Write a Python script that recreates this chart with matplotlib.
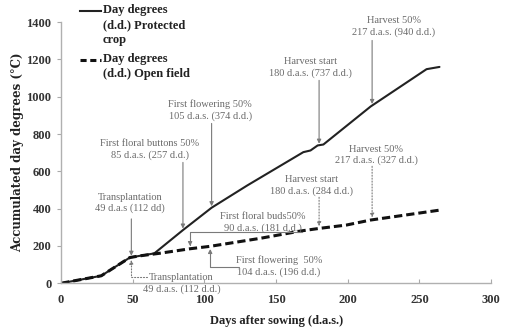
import matplotlib
matplotlib.use("Agg")
import matplotlib.pyplot as plt
from matplotlib.lines import Line2D
import numpy as np

# accumulated day degrees
days_protected = [0, 14, 28, 48, 65, 85, 105, 130, 169, 174, 179, 183, 216, 255, 264]
dd_protected = [0, 20, 40, 138, 160, 285, 405, 525, 703, 712, 739, 744, 948, 1148, 1160]

days_open = [0, 14, 28, 48, 55, 69, 90, 104, 139, 167, 180, 199, 216, 264]
dd_open = [0, 20, 40, 138, 147, 161, 185, 198, 241, 280, 294, 312, 339, 392]

x_ticks = [0, 50, 100, 150, 200, 250, 300]
y_ticks = [0, 200, 400, 600, 800, 1000, 1200, 1400]

# (text, event day, text x, text y, arrow start y)
protected_events = [
    ("Transplantation\n49 d.a.s (112 dd)", 49, 48, 430, 345),
    ("First floral buttons 50%\n85 d.a.s. (257 d.d.)", 85, 62, 718, 648),
    ("First flowering 50%\n105 d.a.s. (374 d.d.)", 105, 104, 927, 857),
    ("Harvest start\n180 d.a.s. (737 d.d.)", 180, 174, 1155, 1088),
    ("Harvest 50%\n217 d.a.s. (940 d.d.)", 217, 232, 1375, 1302),
]
open_events = [
    ("Harvest start\n180 d.a.s. (284 d.d.)", 180, 175, 522, 461),
    ("Harvest 50%\n217 d.a.s. (327 d.d.)", 217, 220, 688, 627),
]

serif = "DejaVu Serif"
times = "Liberation Serif"
note_font = dict(family=times, size=7.5, color="#6a6a6a",
                 ha="center", va="center", linespacing=1.3)
leader = "#7a7a7a"

fig = plt.figure(figsize=(5.18, 3.36), dpi=100)
ax = fig.add_axes([0.118, 0.157, 0.83, 0.777])

ax.plot(days_protected, dd_protected, color="#222222", lw=1.5, solid_capstyle="round")
ax.plot(days_open, dd_open, color="#111111", lw=2.2, dashes=(2.7, 1.3))

for text, day, tx, ty, y0 in protected_events:
    y1 = np.interp(day, days_protected, dd_protected)
    ax.text(tx, ty, text, **note_font)
    ax.annotate("", xy=(day, y1 + 8), xytext=(day, y0),
                arrowprops=dict(arrowstyle="-|>", color=leader, lw=0.8,
                                mutation_scale=6, shrinkA=0, shrinkB=0))

for text, day, tx, ty, y0 in open_events:
    y1 = np.interp(day, days_open, dd_open)
    ax.text(tx, ty, text, **note_font)
    ax.annotate("", xy=(day, y1 + 12), xytext=(day, y0),
                arrowprops=dict(arrowstyle="-|>", color=leader, lw=0.8, ls=":",
                                mutation_scale=6, shrinkA=0, shrinkB=0))

# open field notes with elbow leaders
y90 = np.interp(90, days_open, dd_open)
ax.text(141, 327, "First floral buds50%\n90 d.a.s. (181 d.d.)", **note_font)
ax.annotate("", xy=(90, y90 + 14), xytext=(168, 275),
            arrowprops=dict(arrowstyle="-|>", color=leader, lw=0.8, mutation_scale=6,
                            shrinkA=0, shrinkB=0,
                            connectionstyle="angle,angleA=0,angleB=90,rad=0"))

y104 = np.interp(104, days_open, dd_open)
ax.text(152, 91, "First flowering  50%\n104 d.a.s. (196 d.d.)", **note_font)
ax.annotate("", xy=(104, y104 - 14), xytext=(124, 86),
            arrowprops=dict(arrowstyle="-|>", color=leader, lw=0.8, mutation_scale=6,
                            shrinkA=0, shrinkB=0,
                            connectionstyle="angle,angleA=0,angleB=90,rad=0"))

y49 = np.interp(49, days_open, dd_open)
ax.text(84, -3, "Transplantation\n49 d.a.s. (112 d.d.)", **note_font)
ax.annotate("", xy=(49, y49 - 14), xytext=(60, 32), annotation_clip=False,
            arrowprops=dict(arrowstyle="-|>", color=leader, lw=0.8, ls=":",
                            mutation_scale=6, shrinkA=0, shrinkB=0,
                            connectionstyle="angle,angleA=0,angleB=90,rad=0"))

ax.set_xlim(0, 300)
ax.set_ylim(0, 1400)
ax.set_xticks(x_ticks)
ax.set_yticks(y_ticks)
for lbl in ax.get_xticklabels() + ax.get_yticklabels():
    lbl.set_fontfamily(times)
    lbl.set_fontweight("bold")
    lbl.set_fontsize(9)
    lbl.set_color("#333333")
ax.tick_params(axis="x", direction="in", length=3, color="#aaaaaa", pad=8)
ax.tick_params(axis="y", direction="out", length=3, color="#aaaaaa", pad=4)

ax.set_xlabel("Days after sowing (d.a.s.)", family=times, weight="bold",
              fontsize=9, color="#222222", labelpad=6)
ax.set_ylabel("Accumulated day degrees (°C)", family=serif, weight="bold",
              fontsize=8.5, color="#222222", labelpad=2)

ax.spines[["top", "right"]].set_visible(False)
ax.spines[["left", "bottom"]].set_color("#b0b0b0")
ax.spines[["left", "bottom"]].set_linewidth(1.0)

# hand-drawn legend, handle aligned with the first text line
legend_font = dict(family=times, weight="bold", fontsize=9, color="#222222",
                   va="top", ha="left", linespacing=1.35)
fig.add_artist(Line2D([80 / 518, 101 / 518], [1 - 11 / 336] * 2,
                      color="#222222", lw=1.5))
fig.text(103 / 518, 1 - 4 / 336, "Day degrees\n(d.d.) Protected\ncrop", **legend_font)
fig.add_artist(Line2D([80 / 518, 101 / 518], [1 - 60 / 336] * 2,
                      color="#111111", lw=2.2, dashes=(2, 1.2)))
fig.text(103 / 518, 1 - 53 / 336, "Day degrees\n(d.d.) Open field", **legend_font)

fig.savefig("out.png", dpi=100)
